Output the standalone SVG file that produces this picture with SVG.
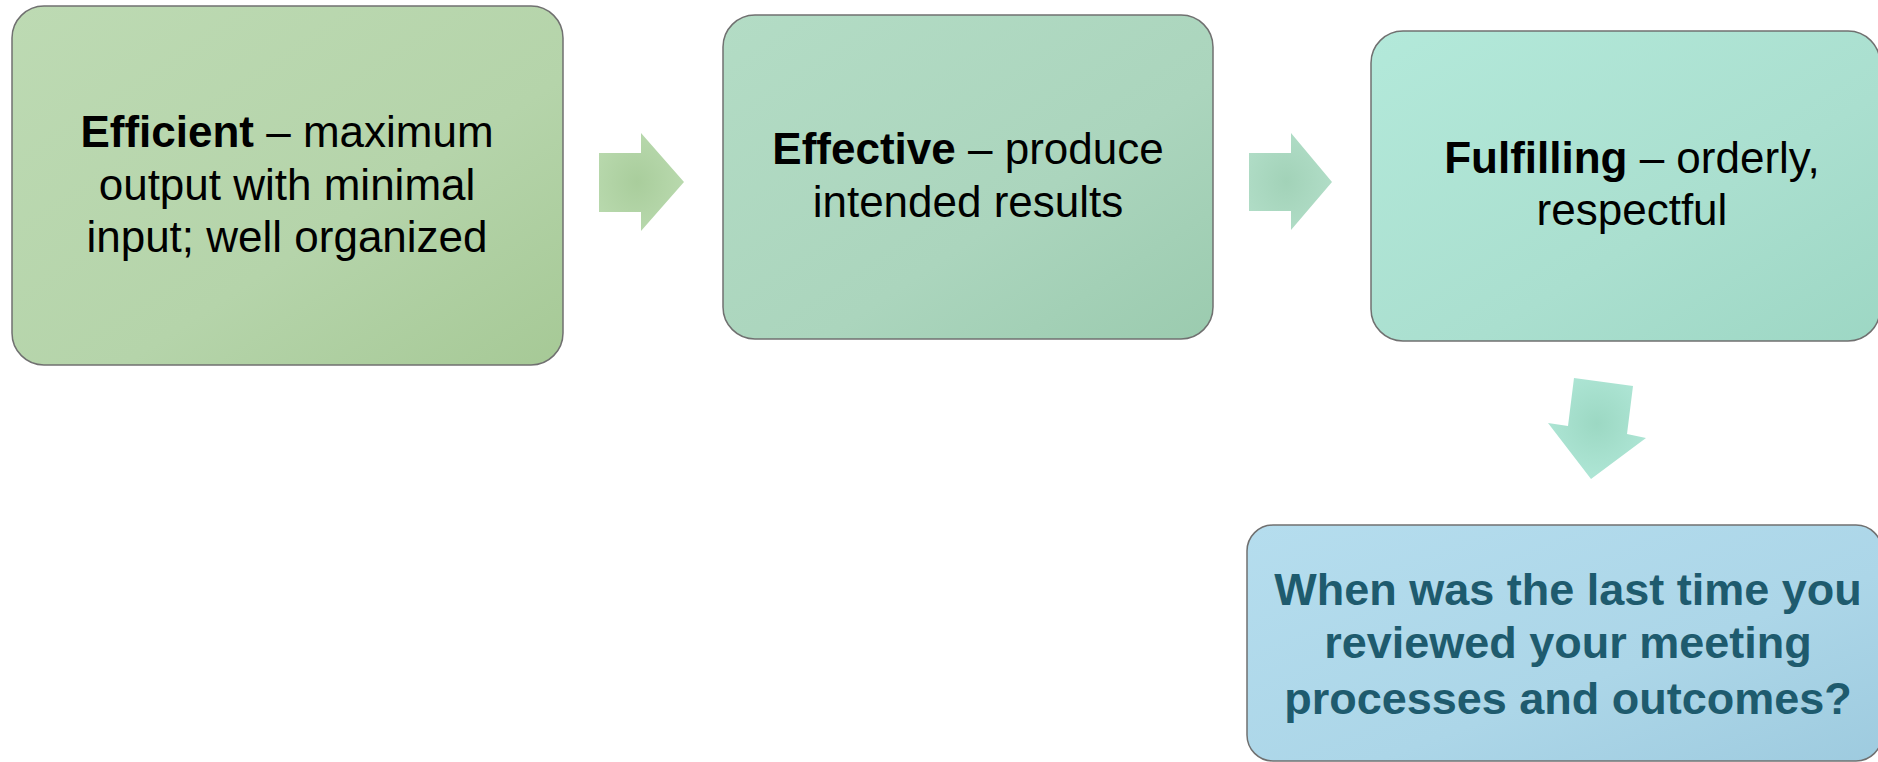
<svg xmlns="http://www.w3.org/2000/svg" width="1878" height="762" viewBox="0 0 1878 762">
  <style>
    .box { stroke: #707070; stroke-width: 1.5; }
    .txt { font-family: "Liberation Sans", Arial, sans-serif; font-size: 44px; fill: #000; text-anchor: middle; }
    .q { font-family: "Liberation Sans", Arial, sans-serif; font-size: 45px; font-weight: bold; fill: #1e5b6e; text-anchor: middle; }
    b, .b { font-weight: bold; }
  </style>
  <defs>
    <linearGradient id="g1" x1="0" y1="0" x2="1" y2="1">
      <stop offset="0" stop-color="#bddab3"/>
      <stop offset="0.6" stop-color="#b5d4aa"/>
      <stop offset="1" stop-color="#a6c996"/>
    </linearGradient>
    <linearGradient id="g2" x1="0" y1="0" x2="1" y2="1">
      <stop offset="0" stop-color="#b3dcc5"/>
      <stop offset="0.6" stop-color="#abd5bd"/>
      <stop offset="1" stop-color="#9bcbaf"/>
    </linearGradient>
    <linearGradient id="g3" x1="0" y1="0" x2="1" y2="1">
      <stop offset="0" stop-color="#b3e9da"/>
      <stop offset="0.6" stop-color="#aadfcf"/>
      <stop offset="1" stop-color="#9dd7c4"/>
    </linearGradient>
    <linearGradient id="g4" x1="0" y1="0" x2="1" y2="1">
      <stop offset="0" stop-color="#b5ddee"/>
      <stop offset="0.6" stop-color="#acd6e8"/>
      <stop offset="1" stop-color="#9ecbdf"/>
    </linearGradient>
    <radialGradient id="a1" cx="0.45" cy="0.5" r="0.6">
      <stop offset="0" stop-color="#a9cd9c"/>
      <stop offset="1" stop-color="#badaaf"/>
    </radialGradient>
    <radialGradient id="a2" cx="0.45" cy="0.5" r="0.6">
      <stop offset="0" stop-color="#a2d2b8"/>
      <stop offset="1" stop-color="#b2dec8"/>
    </radialGradient>
    <radialGradient id="a3" cx="0.5" cy="0.45" r="0.6">
      <stop offset="0" stop-color="#9cd8c3"/>
      <stop offset="1" stop-color="#b0e7d7"/>
    </radialGradient>
  </defs>

  <g id="connectors">
    <polygon points="599,153 641,153 641,133 684,182 641,231 641,212 599,212" fill="url(#a1)"/>
    <polygon points="1249,153 1291,153 1291,133 1332,182 1291,230 1291,211 1249,211" fill="url(#a2)"/>
    <polygon points="1574,378 1633,386 1627,434 1646,438 1591,479 1548,423 1568,426" fill="url(#a3)"/>
  </g>

  <g id="node-efficient">
    <rect class="box" x="12" y="6" width="551" height="359" rx="32" fill="url(#g1)"/>
    <text class="txt" x="287" y="147"><tspan class="b">Efficient</tspan> – maximum</text>
    <text class="txt" x="287" y="200">output with minimal</text>
    <text class="txt" x="287" y="252">input; well organized</text>
  </g>

  <g id="node-effective">
    <rect class="box" x="723" y="15" width="490" height="324" rx="32" fill="url(#g2)"/>
    <text class="txt" x="968" y="164"><tspan class="b">Effective</tspan> – produce</text>
    <text class="txt" x="968" y="217">intended results</text>
  </g>

  <g id="node-fulfilling">
    <rect class="box" x="1371" y="31" width="509" height="310" rx="32" fill="url(#g3)"/>
    <text class="txt" x="1632" y="173"><tspan class="b">Fulfilling</tspan> – orderly,</text>
    <text class="txt" x="1632" y="225">respectful</text>
  </g>

  <g id="node-question">
    <rect class="box" x="1247" y="525" width="635" height="236" rx="26" fill="url(#g4)"/>
    <text class="q" x="1568" y="605">When was the last time you</text>
    <text class="q" x="1568" y="658">reviewed your meeting</text>
    <text class="q" x="1568" y="714">processes and outcomes?</text>
  </g>
</svg>
